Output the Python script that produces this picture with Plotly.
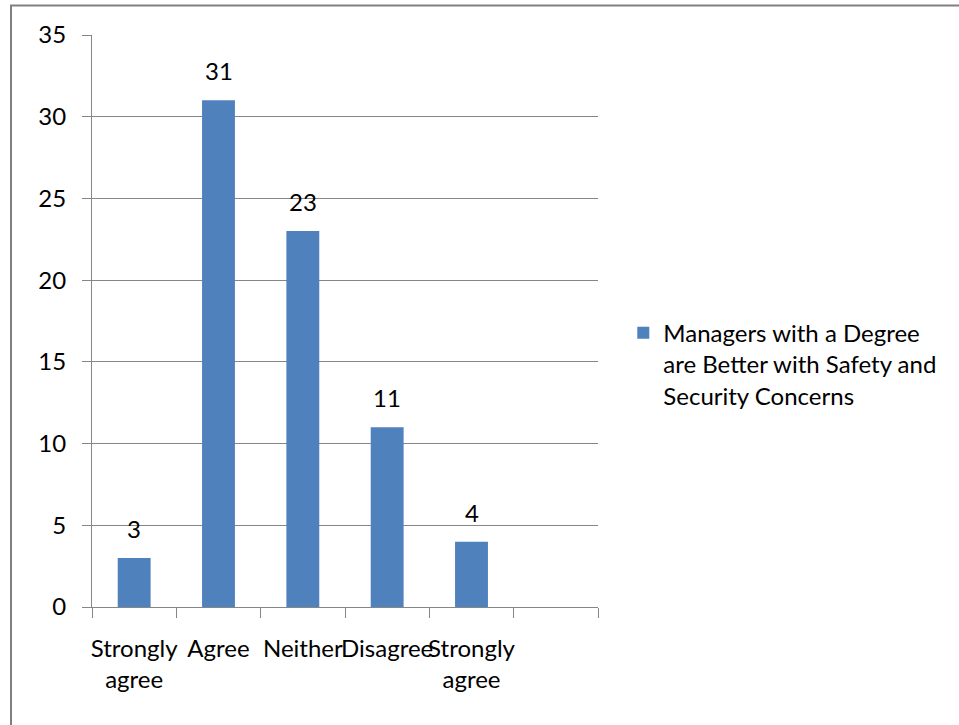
import plotly.graph_objects as go

# Survey responses
categories = ["Strongly<br>agree", "Agree", "Neither", "Disagree", "Strongly<br>agree"]
counts = [3, 31, 23, 11, 4]
series_name = "Managers with a Degree<br>are Better with Safety and<br>Security Concerns"
y_ticks = [0, 5, 10, 15, 20, 25, 30, 35]

BAR_COLOR = "#4F81BD"
GRID = "#868686"
FONT = "Lato"
FS = 24

positions = list(range(len(categories)))
n_slots = len(categories) + 1  # one empty slot on the right

fig = go.Figure()
fig.add_trace(go.Bar(
    x=positions,
    y=counts,
    width=0.39,
    marker=dict(color=BAR_COLOR, line=dict(width=0)),
    name=series_name,
    showlegend=True,
))

# value labels above each bar
for xi, v in zip(positions, counts):
    fig.add_annotation(
        x=xi, y=v, text=str(v), showarrow=False,
        yanchor="bottom", yshift=13,
        font=dict(family=FONT, size=FS, color="#000000"),
    )

fig.update_layout(
    width=959, height=725,
    margin=dict(l=92, r=361, t=35, b=118),
    paper_bgcolor="white", plot_bgcolor="white",
    font=dict(family=FONT, size=FS, color="#000000"),
    bargap=0.61,
    legend=dict(
        x=1.05, y=0.4245, xanchor="left", yanchor="middle",
        valign="top",
        font=dict(family=FONT, size=FS, color="#000000"),
        bgcolor="rgba(0,0,0,0)",
    ),
    xaxis=dict(
        range=[-0.5, n_slots - 0.5],
        tickmode="array",
        tickvals=positions,
        ticktext=categories,
        tickangle=0,
        ticks="",
        showgrid=False,
        zeroline=False,
        showline=True, linecolor=GRID, linewidth=1,
        ticklabelstandoff=20,
        minor=dict(
            tickmode="array",
            tickvals=[p - 0.5 for p in range(n_slots + 1)],
            ticks="outside", ticklen=10, tickcolor=GRID, tickwidth=1,
            showgrid=False,
        ),
    ),
    yaxis=dict(
        range=[0, 35],
        tickmode="array",
        tickvals=y_ticks,
        ticks="outside", ticklen=9, tickcolor=GRID, tickwidth=1,
        showgrid=True, gridcolor=GRID, gridwidth=1,
        zeroline=False,
        showline=True, linecolor=GRID, linewidth=1,
        ticklabelstandoff=11,
    ),
)

# chart-area frame
fig.add_shape(
    type="rect", xref="paper", yref="paper",
    x0=(11 - 92) / 506, x1=(975 - 92) / 506,
    y0=(607 - 740) / 572, y1=1 + (35 - 5.5) / 572,
    line=dict(color="#808080", width=2), layer="below",
)

fig.write_html("out.html")
